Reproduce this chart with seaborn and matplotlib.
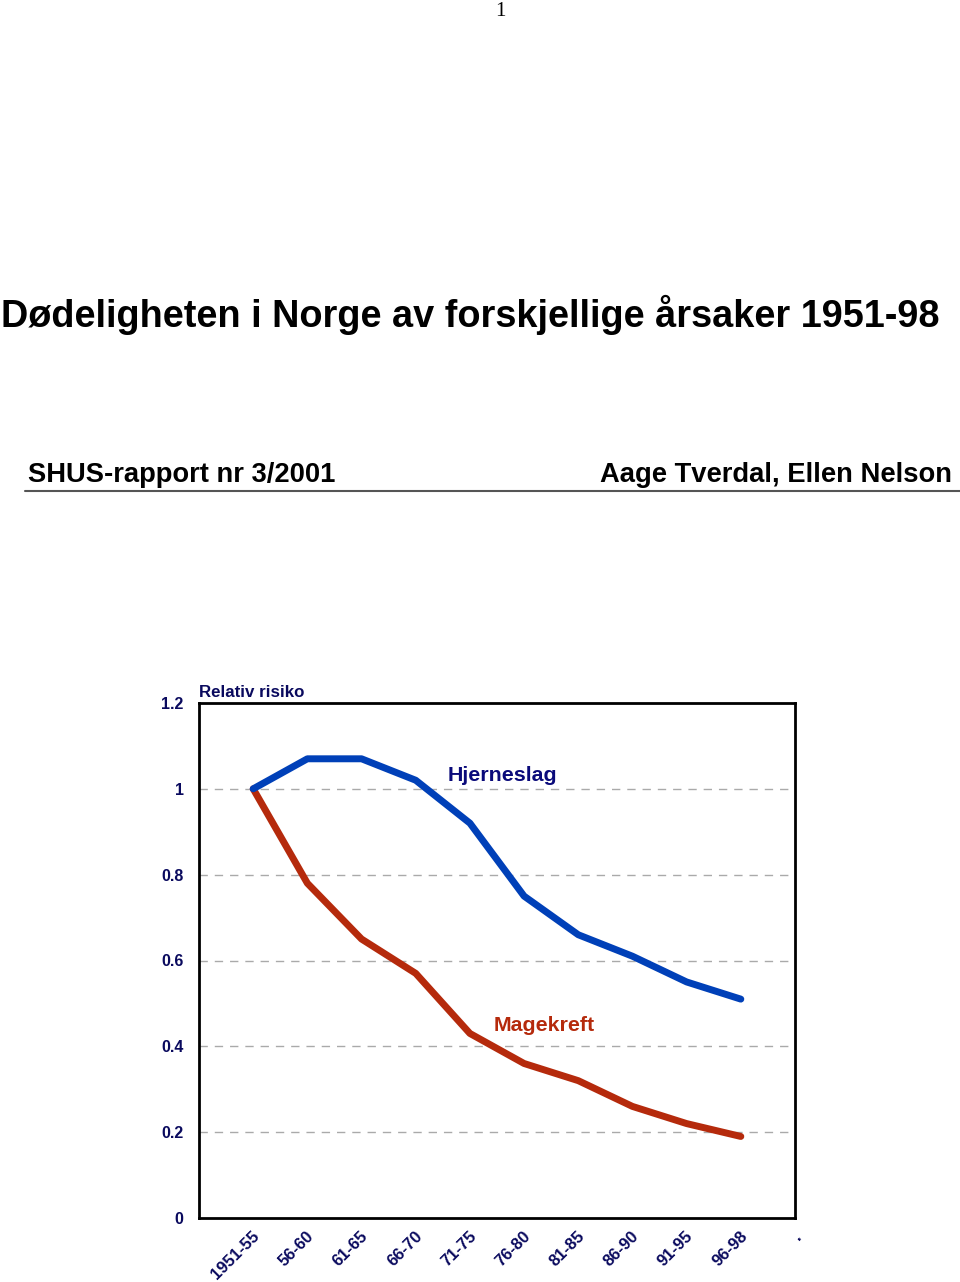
import matplotlib
matplotlib.use("Agg")
import matplotlib.pyplot as plt
import matplotlib.transforms as mtransforms
import seaborn as sns
import pandas as pd
import numpy as np

periods = ["1951-55", "56-60", "61-65", "66-70", "71-75", "76-80", "81-85", "86-90", "91-95", "96-98"]
hjerneslag = [1.00, 1.07, 1.07, 1.02, 0.92, 0.75, 0.66, 0.61, 0.55, 0.51]
magekreft = [1.00, 0.78, 0.65, 0.57, 0.43, 0.36, 0.32, 0.26, 0.22, 0.19]
y_ticks = [0, 0.2, 0.4, 0.6, 0.8, 1, 1.2]
y_ticklabels = ["0", "0.2", "0.4", "0.6", "0.8", "1", "1.2"]

BLUE = "#0040B8"
RED = "#B52A0C"
NAVY = "#0A0A5E"

sns.set_style("white")
plt.rcParams["font.family"] = ["Liberation Sans", "DejaVu Sans"]

df = pd.DataFrame({
    "pos": list(range(len(periods))) * 2,
    "verdi": hjerneslag + magekreft,
    "serie": ["Hjerneslag"] * len(periods) + ["Magekreft"] * len(periods),
})

fig = plt.figure(figsize=(9.6, 12.82), dpi=100)

# page header texts
fig.text(500 / 960, 1 - 12 / 1282, "1", ha="center", va="center",
         fontsize=15, family="Liberation Serif", color="black")
fig.text(470 / 960, 1 - 315 / 1282, "Dødeligheten i Norge av forskjellige årsaker 1951-98",
         ha="center", va="center", fontsize=27.3, fontweight="bold", color="black")
fig.text(28 / 960, 1 - 475 / 1282, "SHUS-rapport nr 3/2001", ha="left", va="center",
         fontsize=19.7, fontweight="bold", color="black")
fig.text(952 / 960, 1 - 475 / 1282, "Aage Tverdal, Ellen Nelson", ha="right", va="center",
         fontsize=19.7, fontweight="bold", color="black")
fig.add_artist(plt.Line2D([25 / 960, 1.0], [1 - 491 / 1282, 1 - 491 / 1282],
                          transform=fig.transFigure, color="#555555", lw=1.5))

ax = fig.add_axes([199 / 960, 64 / 1282, 596 / 960, 515 / 1282])

sns.lineplot(data=df, x="pos", y="verdi", hue="serie",
             palette={"Hjerneslag": BLUE, "Magekreft": RED},
             hue_order=["Magekreft", "Hjerneslag"],
             linewidth=5, legend=False, ax=ax, solid_capstyle="round",
             solid_joinstyle="round", zorder=3)

ax.set_xlim(-1, 10)
ax.set_ylim(0, 1.2)
ax.set_xlabel("")
ax.set_ylabel("")

for v in y_ticks[1:-1]:
    ax.axhline(v, color="#AAAAAA", lw=1, ls=(0, (6, 5)), zorder=1)

for s in ax.spines.values():
    s.set_color("black")
    s.set_linewidth(2)

ax.set_yticks(y_ticks)
ax.set_yticklabels(y_ticklabels, fontsize=11.5, fontweight="bold", color=NAVY)
ax.tick_params(axis="y", length=0, pad=11)

ax.set_xticks(list(range(len(periods) + 1)))
ax.set_xticklabels(periods + ["."], fontsize=12, fontweight="bold", color=NAVY,
                   rotation=45, ha="right", va="center", rotation_mode="anchor")
ax.tick_params(axis="x", direction="in", length=8, width=1, color="#AAAAAA", pad=8)
offset = mtransforms.ScaledTranslation(4 / 100, -5 / 100, fig.dpi_scale_trans)
for lab in ax.get_xticklabels():
    lab.set_transform(lab.get_transform() + offset)

ax.text(0.0, 1.005, "Relativ risiko", transform=ax.transAxes, ha="left", va="bottom",
        fontsize=12.2, fontweight="bold", color=NAVY)
ax.text(4.6, 1.03, "Hjerneslag", ha="center", va="center", fontsize=15.4,
        fontweight="bold", color="#0A0A7A")
ax.text(5.38, 0.449, "Magekreft", ha="center", va="center", fontsize=15.4,
        fontweight="bold", color=RED)

fig.savefig("out.png", dpi=100, facecolor="white")
